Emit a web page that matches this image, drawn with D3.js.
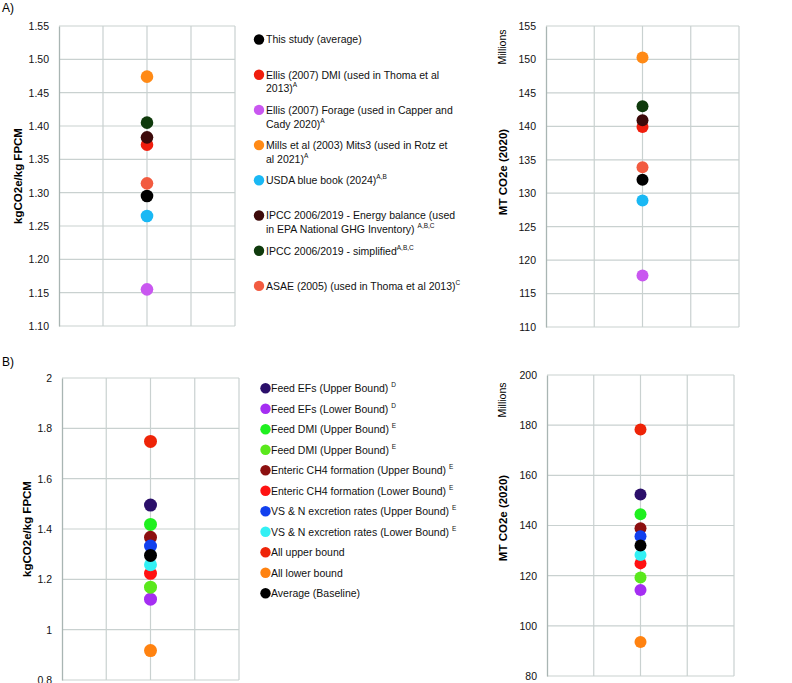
<!DOCTYPE html>
<html>
<head>
<meta charset="utf-8">
<script src="https://cdn.jsdelivr.net/npm/d3@7"></script>
<style>
  body { margin: 0; background: #fff; }
  svg { font-family: "Liberation Sans", Arial, sans-serif; }
</style>
</head>
<body>
<svg id="chart" width="792" height="683"></svg>
<script>
// ---- panel A data ----
const methodsA = [
  ["This study (average)"],
  ["Ellis (2007) DMI (used in Thoma et al", "2013)"],
  ["Ellis (2007) Forage (used in Capper and", "Cady 2020)"],
  ["Mills et al (2003) Mits3 (used in Rotz et", "al 2021)"],
  ["USDA blue book (2024)"],
  ["IPCC 2006/2019 - Energy balance (used", "in EPA National GHG Inventory) "],
  ["IPCC 2006/2019 - simplified"],
  ["ASAE (2005) (used in Thoma et al 2013)"]
]
const supsA = ["", "A", "A", "A", "A,B", "A,B,C", "A,B,C", "C"]
const colorsA = ["#000000", "#f01e0e", "#c957f0", "#ff8a16", "#1ab8f4", "#3d0a0a", "#0f3a0c", "#f25b40"]
const intensityA = [1.295, 1.372, 1.155, 1.474, 1.265, 1.383, 1.405, 1.314]
const totalA = [132.0, 139.9, 117.7, 150.3, 128.9, 140.9, 143.0, 133.9]
const ticksIntensityA = [1.10, 1.15, 1.20, 1.25, 1.30, 1.35, 1.40, 1.45, 1.50, 1.55]
const ticksTotalA = [110, 115, 120, 125, 130, 135, 140, 145, 150, 155]

// ---- panel B data ----
const scenariosB = [
  "Feed EFs (Upper Bound) ",
  "Feed EFs (Lower Bound) ",
  "Feed DMI (Upper Bound) ",
  "Feed DMI (Upper Bound) ",
  "Enteric CH4 formation (Upper Bound)  ",
  "Enteric CH4 formation (Lower Bound) ",
  "VS & N excretion rates (Upper Bound) ",
  "VS & N excretion rates (Lower Bound) ",
  "All upper bound",
  "All lower bound",
  "Average (Baseline)"
]
const supsB = ["D", "D", "E", "E", "E", "E", "E", "E", "", "", ""]
const colorsB = ["#2b0f6a", "#a52ef2", "#1ff01f", "#5ae81c", "#8c1010", "#ff1212", "#1240ee", "#33f0f4", "#ee2408", "#ff8210", "#000000"]
const intensityB = [1.495, 1.121, 1.418, 1.169, 1.367, 1.224, 1.332, 1.258, 1.748, 0.917, 1.295]
const totalB = [152.4, 114.3, 144.5, 119.3, 138.9, 124.9, 135.7, 128.2, 178.3, 93.6, 132.0]
const ticksIntensityB = [0.8, 1, 1.2, 1.4, 1.6, 1.8, 2]
const ticksTotalB = [80, 100, 120, 140, 160, 180, 200]

const svg = d3.select("#chart")
const gridColor = "#c9d1d0"
const axisColor = "#a9b5b3"

function panel(box, values, colors, ticks, fmt, r, title, millions) {
  const g = svg.append("g")
  const x = d3.scaleLinear().domain([0, 4]).range([box.x0, box.x1])
  const y = d3.scaleLinear().domain([ticks[0], ticks[ticks.length - 1]]).range([box.y1, box.y0])

  // horizontal grid
  g.selectAll(".hg").data(ticks).enter().append("line")
    .attr("x1", box.x0).attr("x2", box.x1)
    .attr("y1", d => y(d)).attr("y2", d => y(d))
    .attr("stroke", gridColor).attr("stroke-width", 1.2)
  // vertical grid
  g.selectAll(".vg").data([1, 2, 3, 4]).enter().append("line")
    .attr("x1", d => x(d)).attr("x2", d => x(d))
    .attr("y1", box.y0).attr("y2", box.y1)
    .attr("stroke", gridColor).attr("stroke-width", 1.2)

  const ax = g.append("g")
    .attr("transform", `translate(${box.x0},0)`)
    .call(d3.axisLeft(y).tickValues(ticks).tickSize(0).tickPadding(10).tickFormat(fmt))
  ax.select(".domain").attr("stroke", axisColor).attr("stroke-width", 1.3)
  ax.selectAll("text").attr("font-size", 10.5).attr("fill", "#111")
    .attr("font-family", "Liberation Sans, Arial, sans-serif")

  g.selectAll(".dot").data(values).enter().append("circle")
    .attr("cx", x(2))
    .attr("cy", d => y(d))
    .attr("r", r)
    .attr("fill", (d, i) => colors[i])

  // axis title
  g.append("text")
    .attr("transform", `translate(${title.x},${title.y}) rotate(-90)`)
    .attr("text-anchor", "middle")
    .attr("font-size", 11.5).attr("font-weight", "bold")
    .text(title.text)

  if (millions) {
    g.append("text")
      .attr("transform", `translate(${millions.x},${millions.y}) rotate(-90)`)
      .attr("text-anchor", "middle")
      .attr("font-size", 10.5)
      .text("Millions")
  }
}

function legend(x0, y0, step, labels, sups, colors, dotX) {
  const g = svg.append("g")
  const item = g.selectAll(".item").data(labels).enter().append("g")
    .attr("transform", (d, i) => `translate(0,${y0 + i * step})`)
  item.append("circle")
    .attr("cx", dotX).attr("cy", 0).attr("r", 5.2)
    .attr("fill", (d, i) => colors[i])
  item.each(function(lines, i) {
    const t = d3.select(this).append("text")
      .attr("x", x0).attr("y", 3.8)
      .attr("font-size", 10.5).attr("fill", "#111")
    lines.forEach((line, j) => {
      t.append("tspan").attr("x", x0).attr("dy", j === 0 ? 0 : 14).text(line)
    })
    if (sups[i]) {
      t.append("tspan").attr("dy", -5).attr("font-size", 6.5).text(sups[i])
    }
  })
}

// A) labels
svg.append("text").attr("x", 2).attr("y", 12).attr("font-size", 12).text("A)")
svg.append("text").attr("x", 2).attr("y", 366).attr("font-size", 12).text("B)")

panel({x0: 59, x1: 235, y0: 26, y1: 326}, intensityA, colorsA, ticksIntensityA, d3.format(".2f"), 6.3,
  {x: 22, y: 176, text: "kgCO2e/kg FPCM"})
panel({x0: 546, x1: 739, y0: 26, y1: 327}, totalA, colorsA, ticksTotalA, d3.format("d"), 6,
  {x: 507, y: 172, text: "MT CO2e (2020)"}, {x: 506, y: 47})
legend(266, 39.5, 35.2, methodsA, supsA, colorsA, 259)

panel({x0: 62, x1: 239, y0: 378, y1: 680}, intensityB, colorsB, ticksIntensityB, d => String(+d.toFixed(1)), 6.5,
  {x: 31, y: 529, text: "kgCO2e/kg FPCM"})
panel({x0: 547, x1: 734, y0: 375, y1: 676}, totalB, colorsB, ticksTotalB, d3.format("d"), 6,
  {x: 507, y: 518, text: "MT CO2e (2020)"}, {x: 506, y: 400})
legend(271, 388.3, 20.5, scenariosB.map(s => [s]), supsB, colorsB, 265.5)
</script>
</body>
</html>
